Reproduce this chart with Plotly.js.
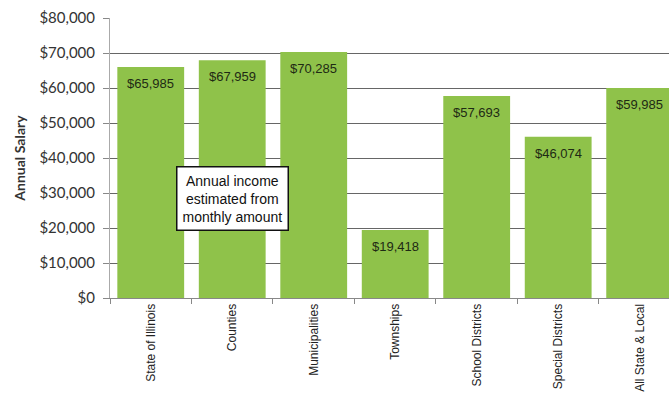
<!DOCTYPE html>
<html>
<head>
<meta charset="utf-8">
<script src="https://cdn.plot.ly/plotly-3.0.1.min.js"></script>
<style>html,body{margin:0;padding:0;overflow:hidden;background:#fff}#chart{width:669px;height:416px}</style>
</head>
<body>
<div id="chart"></div>
<script>
const categories = ["State of Illinois","Counties","Municipalities","Townships","School Districts","Special Districts","All State & Local"];
const salaries = [65985, 67959, 70285, 19418, 57693, 46074, 59985];
const valueLabels = ["$65,985","$67,959","$70,285","$19,418","$57,693","$46,074","$59,985"];
const yTickVals = [0,10000,20000,30000,40000,50000,60000,70000,80000];
const yTickText = ["$0","$10,000","$20,000","$30,000","$40,000","$50,000","$60,000","$70,000","$80,000"];
const noteText = "Annual income<br>estimated from<br>monthly amount";

const narrow = "Liberation Sans Narrow, Arial Narrow, Liberation Sans, Arial, sans-serif";

const trace = {
  type: "bar",
  x: categories,
  y: salaries,
  textposition: "none",
  marker: {color: "#8fc24a", line: {width: 0}},
  hoverinfo: "skip"
};

const valueAnnotations = categories.map((c, i) => ({
  x: c, y: salaries[i], xref: "x", yref: "y",
  text: valueLabels[i], showarrow: false,
  yanchor: "top", yshift: -7,
  font: {family: narrow, size: 13, color: "#1e2a14"}
}));

const layout = {
  width: 669, height: 416,
  margin: {l: 110, r: 0, t: 18, b: 118},
  paper_bgcolor: "#fff", plot_bgcolor: "#fff",
  bargap: 0.18,
  showlegend: false,
  xaxis: {
    type: "category",
    range: [-0.5, 6.36],
    showline: true, linecolor: "#888", linewidth: 1,
    ticks: "outside", tickson: "boundaries", ticklen: 5, tickcolor: "#888",
    tickangle: -90,
    tickfont: {family: narrow, size: 12, color: "#222"},
    showgrid: false, zeroline: false, fixedrange: true
  },
  yaxis: {
    range: [0, 80000],
    tickvals: yTickVals, ticktext: yTickText,
    ticks: "outside", ticklen: 6, tickcolor: "#888",
    ticklabelstandoff: 5,
    showline: true, linecolor: "#aaa", linewidth: 1,
    showgrid: true, gridcolor: "#666", gridwidth: 1,
    zeroline: false,
    tickfont: {family: "Lato, Open Sans, sans-serif", size: 15, color: "#333"},
    title: {text: "<b>Annual Salary</b>", font: {family: "Lato, Open Sans, sans-serif", size: 14, color: "#333"}, standoff: 10},
    fixedrange: true
  },
  annotations: valueAnnotations.concat([{
    x: 1, y: 28300, xref: "x", yref: "y",
    text: noteText, showarrow: false,
    font: {family: narrow, size: 14, color: "#111"},
    bgcolor: "#fff", bordercolor: "#111", borderwidth: 1.5, borderpad: 5,
    align: "center"
  }])
};

Plotly.newPlot("chart", [trace], layout, {displayModeBar: false, staticPlot: true});
</script>
</body>
</html>
